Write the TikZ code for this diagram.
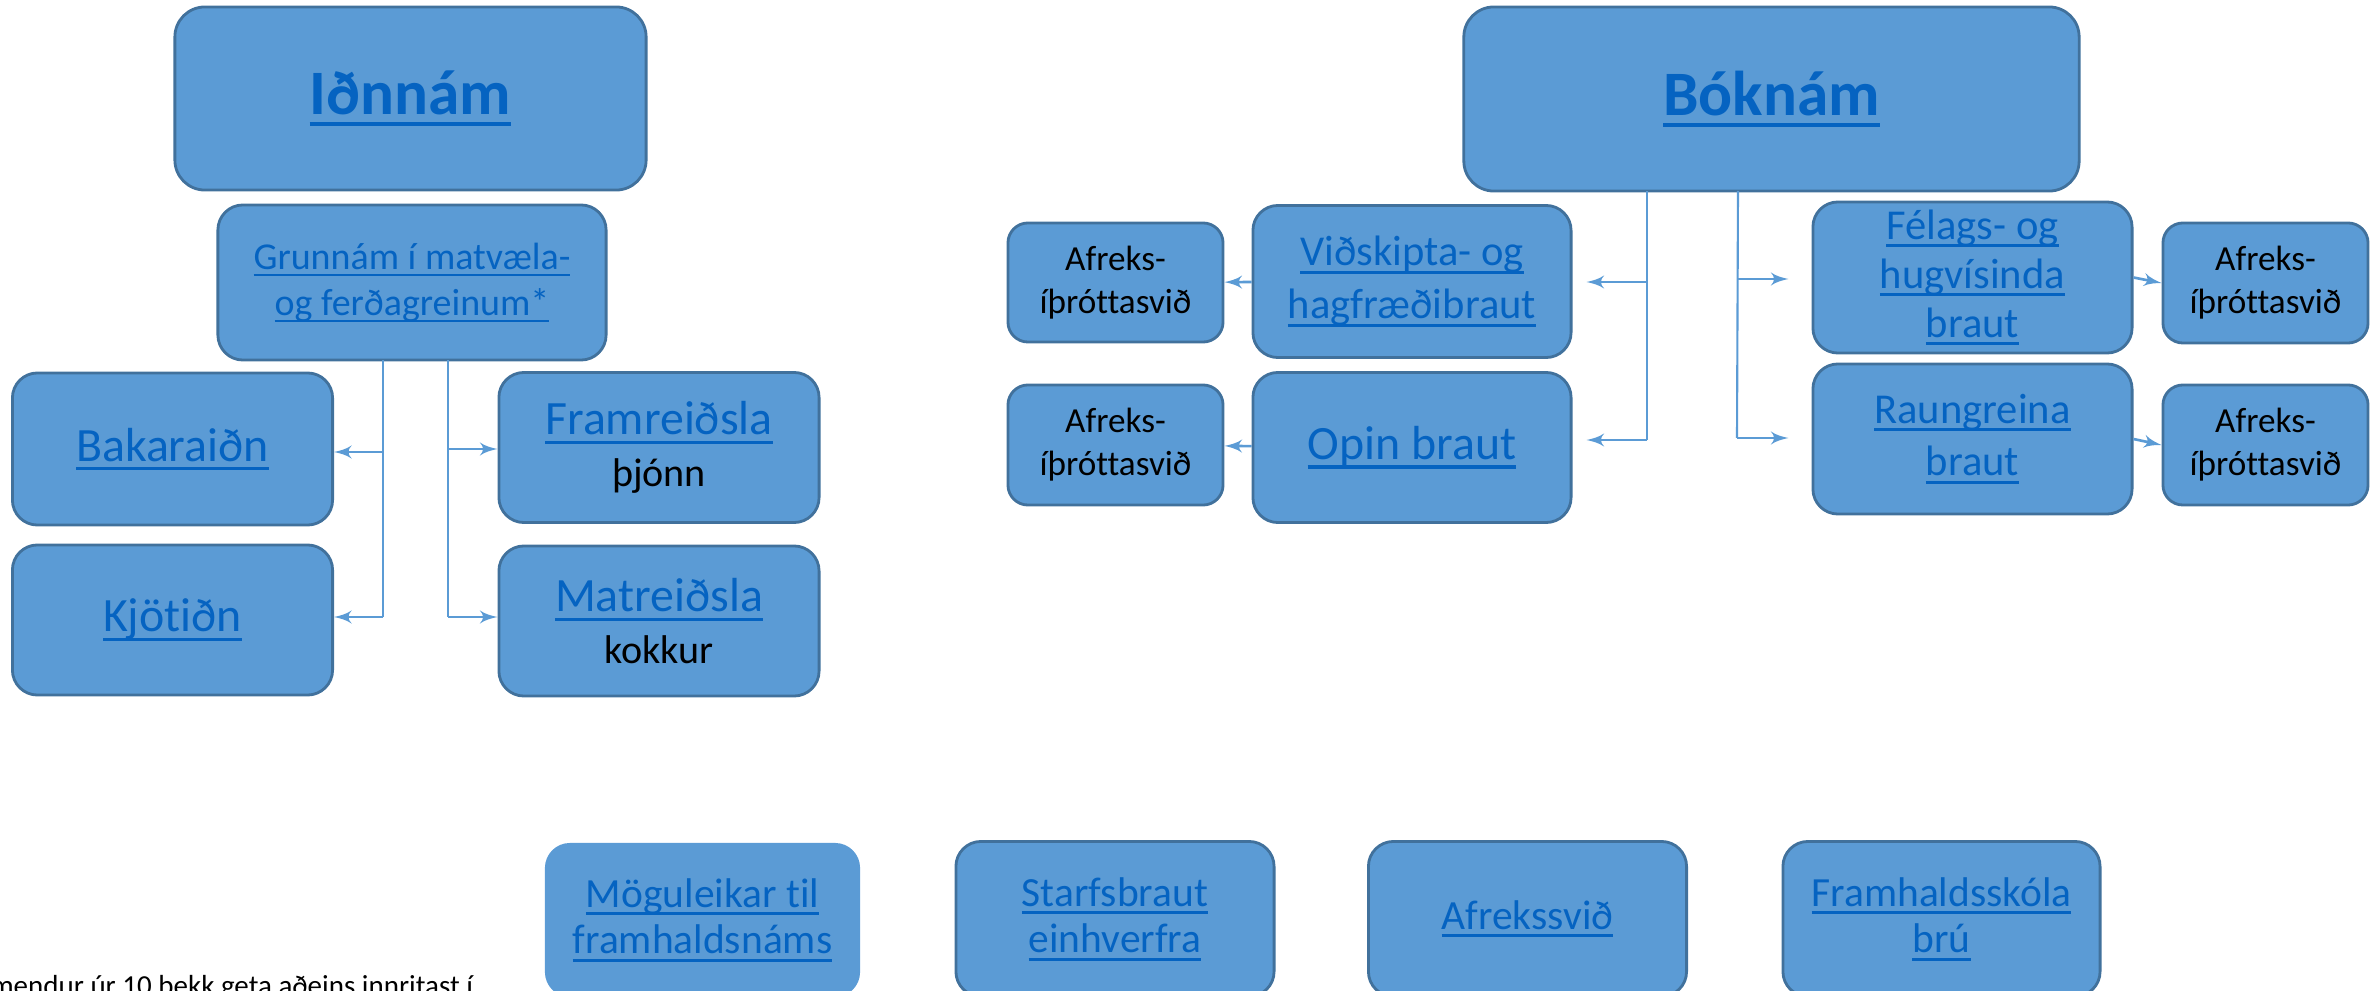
\documentclass[tikz,border=0pt]{standalone}
\usepackage{fontspec}
\setmainfont{Carlito}[Ligatures=NoCommon]
\usepackage{tikz}
\usetikzlibrary{arrows}
\definecolor{boxfill}{HTML}{5B9BD5}
\definecolor{boxline}{HTML}{41719C}
\definecolor{linkblue}{HTML}{0563C1}
\definecolor{linecol}{HTML}{5B9BD5}
\newsavebox{\lnkbox}
\newcommand{\lnk}[1]{\sbox{\lnkbox}{#1}\rlap{\rule[-0.19em]{\wd\lnkbox}{0.07em}}\usebox{\lnkbox}}

\begin{document}
\begin{tikzpicture}[x=0.01cm,y=-0.01cm,->,>=latex',line width=0.75pt,color=linecol]
  \tikzstyle{box}=[rectangle,rounded corners=0.25cm,draw=boxline,line width=0.8pt,fill=boxfill,
                   align=center,inner sep=0pt,text=linkblue]
  \tikzstyle{head}=[box,rounded corners=0.3cm,minimum width=4.71cm,minimum height=1.83cm,
                    font=\bfseries\fontsize{18}{21}\selectfont]
  \tikzstyle{single}=[box,minimum width=3.2cm,minimum height=1.5cm,font=\fontsize{13.6}{14.6}\selectfont]
  \tikzstyle{double}=[box,minimum width=3.18cm,minimum height=1.52cm,font=\fontsize{12.1}{15}\selectfont]
  \tikzstyle{afreks}=[box,rounded corners=0.2cm,minimum width=2.1cm,minimum height=1.2cm,
                      text=black,font=\fontsize{10}{12.2}\selectfont]
  \tikzstyle{extra}=[box,minimum width=3.18cm,minimum height=1.55cm,font=\fontsize{11.8}{13.2}\selectfont]

  \useasboundingbox (0,0) rectangle (2371,991);

  % Iðnnám
  \node[head] (ind) at (410.5,98.5) {\lnk{Iðnnám}};
  \node[box,minimum width=3.88cm,minimum height=1.55cm,font=\fontsize{10.8}{13.1}\selectfont]
        (grun) at (412,282.5) {\lnk{Grunnám í matvæla-}\\\lnk{og ferðagreinum*}};
  \node[single,minimum height=1.52cm] (bak)  at (172.5,449)  {\lnk{Bakaraiðn}};
  \node[single] (kjot) at (172.5,620)  {\lnk{Kjötiðn}};
  \node[single] (fram) at (659,447.5)  {\lnk{Framreiðsla}\\{\color{black}\fontsize{11.4}{14.6}\selectfont þjónn}};
  \node[single] (mat)  at (659,621)    {\lnk{Matreiðsla}\\{\color{black}\fontsize{11.4}{14.6}\selectfont kokkur}};

  \coordinate (gl)  at (383,360);
  \coordinate (gl1) at (383,452);
  \coordinate (gl2) at (383,617);
  \coordinate (gr)  at (448,360);
  \coordinate (gr1) at (448,449);
  \coordinate (gr2) at (448,617);
  \draw[-,line width=0.6pt] (gl) -- (gl2);
  \draw[-,line width=0.6pt] (gr) -- (gr2);
  \path (gl1) edge (gl1 -| bak.east)
        (gl2) edge (gl2 -| kjot.east)
        (gr1) edge (gr1 -| fram.west)
        (gr2) edge (gr2 -| mat.west);

  % Bóknám
  \node[head,minimum width=6.15cm,minimum height=1.84cm] (bok) at (1771.5,99) {\lnk{Bóknám}};
  \node[double] (vid)  at (1412,281.5)   {\lnk{Viðskipta- og}\\\lnk{hagfræðibraut}};
  \node[single,minimum width=3.18cm] (opin) at (1412,447.5) {\lnk{Opin braut}};
  \node[double,font=\fontsize{12.1}{13.9}\selectfont,minimum width=3.19cm,minimum height=1.51cm]
        (fel) at (1972.5,277.5) {\lnk{Félags- og}\\\lnk{hugvísinda}\\\lnk{braut}};
  \node[double,minimum width=3.19cm,minimum height=1.5cm] (rau) at (1972.5,439) {\lnk{Raungreina}\\\lnk{braut}};
  \node[afreks,minimum width=2.15cm,minimum height=1.19cm] (afl1) at (1115.5,282.5) {Afreks-\\íþróttasvið};
  \node[afreks,minimum width=2.15cm] (afl2) at (1115.5,445) {Afreks-\\íþróttasvið};
  \node[afreks,minimum width=2.05cm] (afr1) at (2265.5,283) {Afreks-\\íþróttasvið};
  \node[afreks,minimum width=2.05cm] (afr2) at (2265.5,445) {Afreks-\\íþróttasvið};

  \coordinate (bl)  at (1647,191);
  \coordinate (bl1) at (1647,282);
  \coordinate (bl2) at (1647,440);
  \coordinate (br)  at (1738,191);
  \coordinate (br1) at (1738,279);
  \coordinate (br2) at (1737,438);
  \draw[-,line width=0.6pt] (bl) -- (bl2);
  \draw[-,line width=0.6pt] (br) -- (br2);
  \path (bl1) edge [shorten >=0.14cm] (bl1 -| vid.east)
        (bl2) edge [shorten >=0.14cm] (bl2 -| opin.east)
        (br1) edge [shorten >=0.23cm] (br1 -| fel.west)
        (br2) edge [shorten >=0.23cm] (br2 -| rau.west)

        (vid)  edge (afl1)
        (opin) edge (afl2)
        (fel.east) edge (afr1.west)
        (rau.east) edge (afr2.west);

  % bottom row
  \node[extra,draw=none,minimum width=3.15cm,minimum height=1.54cm] (mog) at (702.5,920) {\lnk{Möguleikar til}\\\lnk{framhaldsnáms}};
  \node[extra] (starf) at (1115,919)   {\lnk{Starfsbraut}\\\lnk{einhverfra}};
  \node[extra] (afsv)  at (1527.5,919) {\lnk{Afrekssvið}};
  \node[extra,minimum width=3.17cm] (bru) at (1941.5,919) {\lnk{Framhaldsskóla}\\\lnk{brú}};

  \node[anchor=base west,inner sep=0pt,text=black,font=\fontsize{8.25}{10}\selectfont]
        (note) at (-44,995) {Nemendur úr 10 bekk geta aðeins innritast í};
\end{tikzpicture}
\end{document}
